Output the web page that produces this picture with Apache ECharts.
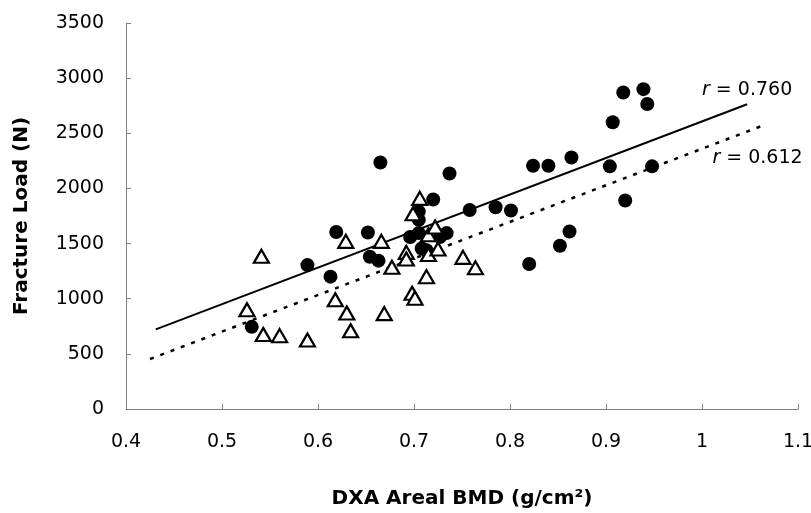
<!DOCTYPE html>
<html><head><meta charset="utf-8">
<script src="https://cdn.jsdelivr.net/npm/echarts@6/dist/echarts.min.js"></script>
<style>html,body{margin:0;padding:0;background:#fff}#c{width:811px;height:513px}</style>
</head><body><div id="c"></div>
<script>
// Filled circles
const circleX = [0.531,0.589,0.613,0.619,0.652,0.654,0.663,0.665,0.696,0.705,0.705,0.705,0.708,0.713,0.720,0.727,0.734,0.737,0.758,0.785,0.801,0.820,0.824,0.840,0.852,0.862,0.864,0.904,0.907,0.918,0.920,0.939,0.943,0.948];
const circleY = [745,1305,1200,1605,1600,1380,1345,2235,1560,1595,1790,1715,1455,1440,1900,1560,1595,2135,1805,1830,1800,1315,2205,2205,1480,1610,2280,2200,2600,2870,1890,2900,2765,2200];
// Open triangles
const triX = [0.526,0.541,0.543,0.560,0.589,0.618,0.629,0.630,0.634,0.666,0.669,0.677,0.692,0.692,0.698,0.699,0.701,0.706,0.713,0.715,0.715,0.722,0.725,0.751,0.764];
const triY = [900,1385,675,665,625,990,1520,870,710,1520,865,1285,1420,1360,1050,1770,1005,1910,1200,1580,1400,1650,1450,1375,1280];
// Regression lines (end points)
const solidFitX = [0.431, 1.047];
const solidFitY = [722, 2763];
const dottedFitX = [0.425, 1.063];
const dottedFitY = [453, 2569];
const solidLabel = ['r', ' = 0.760'];
const dottedLabel = ['r', ' = 0.612'];
// Axes
const xMin = 0.4, xMax = 1.1, xStep = 0.1;
const yMin = 0, yMax = 3500, yStep = 500;
const xName = 'DXA Areal BMD (g/cm\u00B2)';
const yName = 'Fracture Load (N)';

const FF = 'DejaVu Sans';
const zip = (a, b) => a.map((v, i) => [v, b[i]]);

function fitData(xs, ys, lbl, pos, dist, off) {
  return xs.map((x, i) => {
    const d = { value: [x, ys[i]] };
    if (i === xs.length - 1) {
      d.label = {
        show: true, position: pos, distance: dist, offset: off,
        formatter: '{i|' + lbl[0] + '}{n|' + lbl[1] + '}',
        rich: {
          i: { fontStyle: 'italic', fontFamily: FF, fontSize: 19, color: '#000' },
          n: { fontFamily: FF, fontSize: 19, color: '#000' }
        }
      };
    }
    return d;
  });
}

const axisLineStyle = { color: '#808080', width: 1 };
const chart = echarts.init(document.getElementById('c'), null, { renderer: 'canvas' });
chart.setOption({
  animation: false,
  backgroundColor: '#fff',
  grid: { left: 126, right: 13, top: 23, bottom: 104, containLabel: false, outerBoundsMode: 'none' },
  xAxis: {
    type: 'value', min: xMin, max: xMax, interval: xStep,
    name: xName, nameLocation: 'middle', nameGap: 80,
    nameTextStyle: { fontFamily: FF, fontWeight: 'bold', fontSize: 20, color: '#000' },
    axisLine: { show: true, onZero: false, lineStyle: axisLineStyle },
    axisTick: { show: true, inside: true, length: 5, lineStyle: axisLineStyle },
    axisLabel: { fontFamily: FF, fontSize: 19, color: '#000', margin: 24,
      formatter: v => String(+v.toFixed(1)) },
    splitLine: { show: false }
  },
  yAxis: {
    type: 'value', min: yMin, max: yMax, interval: yStep,
    name: yName, nameLocation: 'middle', nameGap: 94,
    nameTextStyle: { fontFamily: FF, fontWeight: 'bold', fontSize: 20, color: '#000' },
    axisLine: { show: true, lineStyle: axisLineStyle },
    axisTick: { show: true, inside: true, length: 5, lineStyle: axisLineStyle },
    axisLabel: { fontFamily: FF, fontSize: 19, color: '#000', margin: 22,
      formatter: v => String(v) },
    splitLine: { show: false }
  },
  series: [
    {
      type: 'line', data: fitData(solidFitX, solidFitY, solidLabel, 'top', 4, [0, 0]),
      symbol: 'circle', symbolSize: 2, showSymbol: true,
      itemStyle: { color: 'rgba(0,0,0,0)', borderWidth: 0 },
      lineStyle: { color: '#000', width: 2, type: 'solid' }, z: 1
    },
    {
      type: 'line', data: fitData(dottedFitX, dottedFitY, dottedLabel, 'bottom', 22, [-5, 0]),
      symbol: 'circle', symbolSize: 2, showSymbol: true,
      itemStyle: { color: 'rgba(0,0,0,0)', borderWidth: 0 },
      lineStyle: { color: '#000', width: 2.5, type: [4, 7] }, z: 1
    },
    {
      type: 'scatter', data: zip(circleX, circleY), symbol: 'circle', symbolSize: 14,
      itemStyle: { color: '#000', opacity: 1 }, z: 2
    },
    {
      type: 'scatter', data: zip(triX, triY), symbol: 'triangle', symbolSize: [15, 13],
      itemStyle: { color: '#fff', borderColor: '#000', borderWidth: 2.2, opacity: 1 }, z: 3
    }
  ]
});
</script></body></html>
